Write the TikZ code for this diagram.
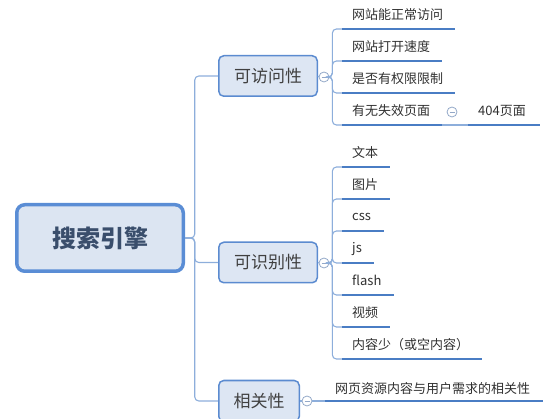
\documentclass[tikz,border=0pt]{standalone}
\usepackage{fontspec}
\setmainfont{Noto Sans CJK SC}
\definecolor{lineblue}{HTML}{8DAEDB}
\definecolor{ulblue}{HTML}{4A7DC4}
\definecolor{boxborder}{HTML}{5B8BD0}
\definecolor{boxfill}{HTML}{DDE6F3}
\definecolor{rootborder}{HTML}{5A8DD5}
\definecolor{rootfill}{HTML}{DCE5F2}
\definecolor{roottext}{HTML}{3A4E6C}
\definecolor{lonetext}{HTML}{404040}
\definecolor{itemtext}{HTML}{303030}
\definecolor{colgray}{HTML}{93A8C8}
\begin{document}
\begin{tikzpicture}[x=1pt,y=-1pt,
 conn/.style={draw=lineblue, line width=1.1pt, rounded corners=4pt},
 uline/.style={draw=ulblue, line width=2.6pt},
 lone/.style={draw=boxborder, fill=boxfill, line width=1.5pt, rounded corners=5pt, minimum height=40.5pt, inner sep=0pt, font=\fontsize{17}{20}\selectfont, text=lonetext},
 item/.style={anchor=south west, minimum height=28pt, inner xsep=10pt, inner ysep=0pt, align=left, font=\fontsize{13}{15}\selectfont, text=itemtext},
 collapse/.style={circle, draw=colgray, fill=white, line width=0.8pt, minimum size=10pt, inner sep=0pt,
   path picture={\draw[colgray, line width=0.8pt] ([xshift=-2.5pt]path picture bounding box.center) -- ([xshift=2.5pt]path picture bounding box.center);}}
]
\useasboundingbox (0,0) rectangle (546,419);

% root
\node[draw=rootborder, fill=rootfill, line width=3.5pt, rounded corners=8pt, minimum width=166.5pt, minimum height=66.5pt, inner sep=0pt, font=\fontsize{24}{28}\selectfont\bfseries, text=roottext] (root) at (100,238) {搜索引擎};

% level 1
\node[lone, minimum width=98.5pt] (n1) at (268,76) {可访问性};
\node[lone, minimum width=98.5pt] (n2) at (268,262.5) {可识别性};
\node[lone, minimum width=80.5pt, minimum height=41pt] (n3) at (259,401) {相关性};

% collapse marks
\node[collapse] (k1) at (324,77) {};
\node[collapse] (k2) at (324,263) {};
\node[collapse] (k3) at (307,401) {};
\node[collapse] (k4) at (452,112) {};

% items group 1
\node[item, text width=93pt] (a1) at (342,29) {网站能正常访问};
\node[item, text width=80pt] (a2) at (342,61) {网站打开速度};
\node[item, text width=93pt] (a3) at (342,93) {是否有权限限制};
\node[item, text width=80pt] (a4) at (342,125) {有无失效页面};
\node[item, text width=52pt] (a5) at (468,125) {404页面};

% items group 2
\node[item, text width=28pt] (b1) at (342,167) {文本};
\node[item, text width=28pt] (b2) at (342,199) {图片};
\node[item, text width=22pt] (b3) at (342,231) {css};
\node[item, text width=12pt] (b4) at (342,263) {js};
\node[item, text width=32pt] (b5) at (342,295) {flash};
\node[item, text width=28pt] (b6) at (342,327) {视频};
\node[item, text width=120pt] (b7) at (342,359) {内容少（或空内容）};

% item group 3
\node[item, minimum height=24pt, text width=198pt] (c1) at (325,401) {网页资源内容与用户需求的相关性};

% connectors
\foreach \n in {n1,n2,n3} \draw[conn] (root.east) -- ++(9.75,0) |- (\n.west);
\draw[conn] (n1.east) -- (k1.west);
\draw[conn] (n2.east) -- (k2.west);
\draw[conn] (n3.east) -- (k3.west);
\foreach \c in {a1,a2,a3,a4} \draw[conn] (k1.east) -- ++(3,0) |- (\c.south west);
\foreach \c in {b1,b2,b3,b4,b5,b6,b7} \draw[conn] (k2.east) -- ++(3,0) |- (\c.south west);
\draw[conn] (k3.east) -- (c1.south west);
\draw[conn] (a4.south east) -- (a5.south west);

% underlines
\foreach \c in {a1,a2,a3,a4,a5,b1,b2,b3,b4,b5,b6,b7,c1} \draw[uline] (\c.south west) -- (\c.south east);
\end{tikzpicture}
\end{document}
